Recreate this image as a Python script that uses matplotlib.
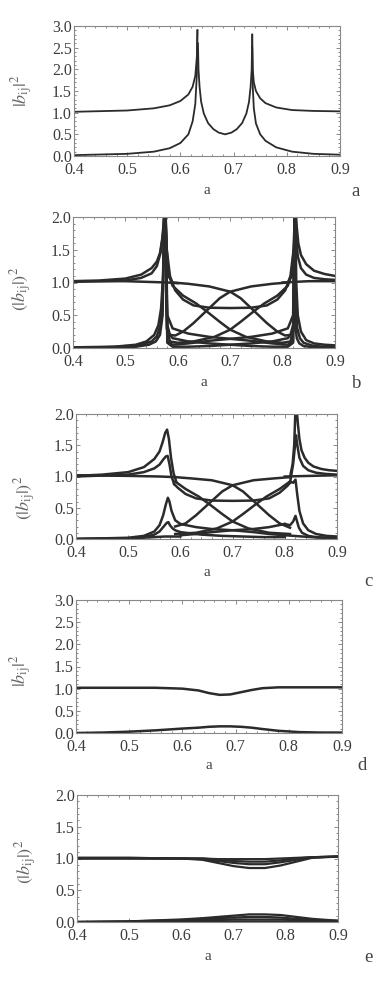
import matplotlib
matplotlib.use('Agg')
import matplotlib.pyplot as plt
from matplotlib.ticker import MultipleLocator, FormatStrFormatter

plt.rcParams['font.family'] = ['Liberation Serif', 'DejaVu Serif']
plt.rcParams['mathtext.fontset'] = 'stix'

# ---- panel a: two branches, resonances near 0.632 and 0.735 ----
a_left_up_x = [0.40, 0.50, 0.55, 0.58, 0.60, 0.615, 0.623, 0.628, 0.631, 0.632]
a_left_up_y = [1.02, 1.05, 1.10, 1.17, 1.27, 1.42, 1.60, 1.85, 2.30, 2.90]
a_left_lo_x = [0.40, 0.50, 0.55, 0.58, 0.60, 0.615, 0.623, 0.628, 0.631, 0.632]
a_left_lo_y = [0.02, 0.05, 0.10, 0.18, 0.30, 0.50, 0.80, 1.20, 1.90, 2.90]
a_mid_x = [0.633, 0.634, 0.636, 0.639, 0.644, 0.652, 0.662, 0.672, 0.684, 0.696,
           0.706, 0.716, 0.724, 0.729, 0.732, 0.734, 0.735]
a_mid_y = [2.60, 2.00, 1.60, 1.25, 0.98, 0.76, 0.62, 0.54, 0.50, 0.54,
           0.62, 0.76, 0.98, 1.25, 1.60, 2.00, 2.80]
a_right_up_x = [0.735, 0.736, 0.738, 0.742, 0.75, 0.76, 0.78, 0.81, 0.85, 0.90]
a_right_up_y = [2.80, 2.00, 1.70, 1.50, 1.33, 1.22, 1.12, 1.06, 1.04, 1.03]
a_right_lo_x = [0.735, 0.736, 0.738, 0.742, 0.75, 0.76, 0.78, 0.81, 0.85, 0.90]
a_right_lo_y = [2.50, 1.60, 1.10, 0.75, 0.50, 0.35, 0.20, 0.10, 0.05, 0.03]

# ---- panel b: many branches, divergent resonances near 0.575 and 0.825 ----
b_l_top1_x = [0.40, 0.45, 0.50, 0.53, 0.55, 0.56, 0.566, 0.570, 0.573, 0.575]
b_l_top1_y = [1.02, 1.03, 1.06, 1.12, 1.22, 1.32, 1.45, 1.65, 1.90, 2.10]
b_l_top2_x = [0.40, 0.50, 0.53, 0.55, 0.56, 0.567, 0.572, 0.575]
b_l_top2_y = [1.01, 1.03, 1.07, 1.14, 1.25, 1.45, 1.75, 2.10]
b_band_l_x = [0.40, 0.50, 0.58, 0.60]
b_band_l_y = [1.02, 1.02, 1.00, 0.99]
b_l_low1_x = [0.40, 0.48, 0.52, 0.54, 0.555, 0.563, 0.568, 0.572, 0.575]
b_l_low1_y = [0.01, 0.02, 0.05, 0.10, 0.20, 0.35, 0.60, 1.10, 2.10]
b_l_low2_x = [0.40, 0.50, 0.53, 0.55, 0.56, 0.567, 0.571, 0.574]
b_l_low2_y = [0.00, 0.02, 0.05, 0.10, 0.18, 0.35, 0.70, 2.10]
b_l_low3_x = [0.40, 0.52, 0.545, 0.558, 0.566, 0.571, 0.574]
b_l_low3_y = [0.00, 0.02, 0.05, 0.10, 0.20, 0.50, 2.10]

b_p1_x = [0.5765, 0.578, 0.582, 0.59, 0.62, 0.66, 0.70, 0.72, 0.745, 0.77, 0.79,
          0.805, 0.815, 0.820, 0.8225, 0.8235]
b_p1_y = [2.10, 1.50, 1.10, 1.00, 0.98, 0.94, 0.86, 0.76, 0.57, 0.38, 0.25,
          0.19, 0.20, 0.35, 0.90, 2.10]
b_p1m_x = [0.5765, 0.5775, 0.58, 0.585, 0.595, 0.61, 0.63, 0.655, 0.68, 0.70,
           0.74, 0.78, 0.81, 0.818, 0.822, 0.8235]
b_p1m_y = [2.10, 0.90, 0.35, 0.20, 0.19, 0.25, 0.38, 0.57, 0.76, 0.86,
           0.94, 0.98, 1.00, 1.10, 1.50, 2.10]
b_p2_x = [0.5765, 0.578, 0.582, 0.59, 0.61, 0.635, 0.655, 0.68, 0.70, 0.73, 0.77,
          0.80, 0.815, 0.821, 0.8235]
b_p2_y = [2.10, 1.60, 1.15, 0.95, 0.80, 0.68, 0.56, 0.40, 0.28, 0.17, 0.10,
          0.08, 0.10, 0.30, 2.10]
b_p2m_x = [0.5765, 0.579, 0.585, 0.60, 0.63, 0.67, 0.70, 0.72, 0.745, 0.765, 0.79,
           0.81, 0.818, 0.822, 0.8235]
b_p2m_y = [2.10, 0.30, 0.10, 0.08, 0.10, 0.17, 0.28, 0.40, 0.56, 0.68, 0.80,
           0.95, 1.15, 1.60, 2.10]
b_p3_x = [0.5765, 0.579, 0.585, 0.595, 0.61, 0.63, 0.66, 0.70, 0.74, 0.77, 0.79,
          0.805, 0.815, 0.821, 0.8235]
b_p3_y = [2.10, 1.50, 1.10, 0.88, 0.74, 0.65, 0.615, 0.61, 0.615, 0.65, 0.74,
          0.88, 1.10, 1.50, 2.10]
b_q1_x = [0.5765, 0.58, 0.59, 0.62, 0.66, 0.70, 0.74, 0.78, 0.81, 0.82, 0.8235]
b_q1_y = [2.10, 0.50, 0.30, 0.22, 0.17, 0.14, 0.11, 0.07, 0.05, 0.10, 2.10]
b_q1m_x = [0.5765, 0.58, 0.59, 0.62, 0.66, 0.70, 0.74, 0.78, 0.81, 0.82, 0.8235]
b_q1m_y = [2.10, 0.10, 0.05, 0.07, 0.11, 0.14, 0.17, 0.22, 0.30, 0.50, 2.10]
b_q2_x = [0.5765, 0.58, 0.59, 0.62, 0.66, 0.70, 0.74, 0.78, 0.81, 0.82, 0.8235]
b_q2_y = [2.10, 0.25, 0.15, 0.10, 0.07, 0.05, 0.03, 0.02, 0.02, 0.08, 2.10]
b_q2m_x = [0.5765, 0.58, 0.59, 0.62, 0.66, 0.70, 0.74, 0.78, 0.81, 0.82, 0.8235]
b_q2m_y = [2.10, 0.08, 0.02, 0.02, 0.03, 0.05, 0.07, 0.10, 0.15, 0.25, 2.10]

b_r_top1_x = [0.825, 0.827, 0.83, 0.835, 0.845, 0.86, 0.88, 0.90]
b_r_top1_y = [2.10, 1.85, 1.60, 1.42, 1.28, 1.18, 1.13, 1.10]
b_r_top2_x = [0.8245, 0.826, 0.829, 0.835, 0.845, 0.86, 0.88, 0.90]
b_r_top2_y = [2.10, 1.70, 1.40, 1.22, 1.12, 1.07, 1.05, 1.04]
b_band_r_x = [0.80, 0.85, 0.90]
b_band_r_y = [1.00, 1.02, 1.02]
b_r_low1_x = [0.8245, 0.826, 0.829, 0.835, 0.845, 0.86, 0.88, 0.90]
b_r_low1_y = [2.10, 1.00, 0.50, 0.25, 0.12, 0.07, 0.05, 0.04]
b_r_low2_x = [0.8245, 0.8255, 0.828, 0.833, 0.84, 0.855, 0.875, 0.90]
b_r_low2_y = [2.10, 0.60, 0.30, 0.15, 0.08, 0.04, 0.02, 0.02]
b_r_low3_x = [0.824, 0.825, 0.827, 0.832, 0.84, 0.86, 0.90]
b_r_low3_y = [2.10, 0.30, 0.15, 0.07, 0.03, 0.01, 0.01]

# ---- panel c: same branches, finite resonance peaks ----
c_l_top1_x = [0.40, 0.45, 0.50, 0.53, 0.55, 0.56, 0.566, 0.571, 0.5745, 0.578, 0.582, 0.587, 0.592]
c_l_top1_y = [1.01, 1.03, 1.07, 1.15, 1.28, 1.40, 1.55, 1.70, 1.75, 1.60, 1.30, 1.05, 0.92]
c_l_top2_x = [0.40, 0.50, 0.53, 0.55, 0.56, 0.567, 0.572, 0.5755, 0.579, 0.583, 0.588]
c_l_top2_y = [1.00, 1.03, 1.07, 1.13, 1.19, 1.27, 1.32, 1.33, 1.20, 1.00, 0.88]
c_band_l_x = [0.40, 0.50, 0.56, 0.59]
c_band_l_y = [1.02, 1.01, 1.00, 0.99]
c_l_low1_x = [0.40, 0.50, 0.53, 0.55, 0.56, 0.567, 0.572, 0.576, 0.579, 0.583, 0.59, 0.60]
c_l_low1_y = [0.00, 0.02, 0.05, 0.12, 0.22, 0.38, 0.55, 0.66, 0.60, 0.45, 0.30, 0.24]
c_l_low2_x = [0.40, 0.50, 0.53, 0.55, 0.56, 0.568, 0.574, 0.577, 0.58, 0.585, 0.59, 0.60]
c_l_low2_y = [0.00, 0.01, 0.03, 0.07, 0.12, 0.20, 0.26, 0.27, 0.22, 0.17, 0.14, 0.11]
c_l_low3_x = [0.40, 0.50, 0.55, 0.57, 0.60]
c_l_low3_y = [0.00, 0.01, 0.03, 0.04, 0.04]

c_p1_x = [0.59, 0.62, 0.66, 0.70, 0.72, 0.745, 0.77, 0.79, 0.81]
c_p1_y = [0.99, 0.97, 0.94, 0.86, 0.76, 0.57, 0.38, 0.25, 0.18]
c_p1m_x = [0.59, 0.61, 0.63, 0.655, 0.68, 0.70, 0.74, 0.78, 0.81]
c_p1m_y = [0.20, 0.25, 0.38, 0.57, 0.76, 0.86, 0.94, 0.97, 0.99]
c_p2_x = [0.59, 0.61, 0.635, 0.655, 0.68, 0.70, 0.73, 0.77, 0.81]
c_p2_y = [0.92, 0.80, 0.68, 0.56, 0.40, 0.28, 0.17, 0.10, 0.08]
c_p2m_x = [0.59, 0.63, 0.67, 0.70, 0.72, 0.745, 0.765, 0.79, 0.81]
c_p2m_y = [0.08, 0.10, 0.17, 0.28, 0.40, 0.56, 0.68, 0.80, 0.92]
c_p3_x = [0.588, 0.595, 0.61, 0.63, 0.66, 0.70, 0.74, 0.77, 0.79, 0.805, 0.81]
c_p3_y = [0.88, 0.82, 0.72, 0.65, 0.615, 0.61, 0.615, 0.65, 0.74, 0.85, 0.90]
c_q1_x = [0.60, 0.63, 0.66, 0.70, 0.74, 0.77, 0.80]
c_q1_y = [0.24, 0.19, 0.16, 0.14, 0.11, 0.08, 0.06]
c_q1m_x = [0.60, 0.63, 0.66, 0.70, 0.74, 0.77, 0.80]
c_q1m_y = [0.06, 0.08, 0.11, 0.14, 0.16, 0.19, 0.24]
c_q2_x = [0.60, 0.64, 0.68, 0.72, 0.76, 0.80]
c_q2_y = [0.11, 0.07, 0.05, 0.04, 0.03, 0.03]

c_r_top1_x = [0.81, 0.815, 0.818, 0.8205, 0.8225, 0.825, 0.828, 0.832, 0.838, 0.845, 0.855, 0.87, 0.885, 0.90]
c_r_top1_y = [0.99, 1.20, 1.50, 2.10, 2.10, 1.85, 1.60, 1.42, 1.30, 1.22, 1.16, 1.12, 1.10, 1.09]
c_r_top2_x = [0.81, 0.812, 0.816, 0.819, 0.8215, 0.824, 0.828, 0.835, 0.845, 0.86, 0.88, 0.90]
c_r_top2_y = [0.90, 1.00, 1.20, 1.45, 1.66, 1.50, 1.30, 1.17, 1.10, 1.06, 1.04, 1.03]
c_band_r_x = [0.80, 0.85, 0.90]
c_band_r_y = [1.00, 1.01, 1.02]
c_r_low1_x = [0.81, 0.816, 0.8205, 0.824, 0.828, 0.835, 0.845, 0.86, 0.88, 0.90]
c_r_low1_y = [0.92, 0.90, 0.95, 0.70, 0.45, 0.25, 0.14, 0.08, 0.05, 0.04]
c_r_low2_x = [0.80, 0.81, 0.816, 0.8205, 0.8235, 0.827, 0.833, 0.845, 0.86, 0.88, 0.90]
c_r_low2_y = [0.24, 0.22, 0.28, 0.37, 0.28, 0.18, 0.10, 0.05, 0.03, 0.02, 0.02]
c_r_low3_x = [0.80, 0.85, 0.90]
c_r_low3_y = [0.06, 0.03, 0.01]

# ---- panel d: two smooth branches ----
d_x = [0.40, 0.45, 0.50, 0.55, 0.60, 0.63, 0.65, 0.67, 0.69, 0.71, 0.73, 0.75, 0.78, 0.82, 0.86, 0.90]
d_up_y = [1.02, 1.02, 1.02, 1.02, 1.00, 0.96, 0.90, 0.86, 0.87, 0.92, 0.97, 1.01, 1.03, 1.03, 1.03, 1.03]
d_lo_y = [0.00, 0.01, 0.03, 0.06, 0.10, 0.12, 0.14, 0.15, 0.15, 0.14, 0.12, 0.09, 0.05, 0.02, 0.01, 0.01]

# ---- panel e: bundled smooth branches ----
e_x = [0.40, 0.50, 0.60, 0.64, 0.67, 0.70, 0.73, 0.76, 0.79, 0.82, 0.85, 0.90]
e_up1_y = [1.01, 1.01, 1.00, 0.98, 0.93, 0.88, 0.85, 0.85, 0.89, 0.95, 1.01, 1.03]
e_up2_y = [1.01, 1.01, 1.00, 0.99, 0.96, 0.93, 0.91, 0.91, 0.94, 0.98, 1.02, 1.03]
e_up3_y = [1.00, 1.00, 1.00, 1.00, 0.98, 0.96, 0.95, 0.95, 0.97, 1.00, 1.02, 1.03]
e_up4_y = [1.00, 1.00, 1.00, 1.00, 0.99, 0.99, 0.99, 0.99, 1.00, 1.01, 1.02, 1.03]
e_lo1_y = [0.00, 0.01, 0.04, 0.06, 0.08, 0.10, 0.12, 0.12, 0.11, 0.08, 0.05, 0.02]
e_lo2_y = [0.00, 0.01, 0.03, 0.05, 0.06, 0.07, 0.08, 0.08, 0.07, 0.05, 0.03, 0.02]
e_lo3_y = [0.00, 0.00, 0.02, 0.03, 0.03, 0.04, 0.04, 0.04, 0.04, 0.03, 0.02, 0.01]
e_lo4_y = [0.00, 0.00, 0.01, 0.01, 0.01, 0.01, 0.01, 0.01, 0.01, 0.01, 0.01, 0.01]

LINE = '#2b2b2b'
W, H = 382, 981


def make_axes(fig, left, right, top, bottom, ymax, ylabel, ylab_right, ylab_y, xlab_off,
              letter, letter_xy):
    ax = fig.add_axes([left / W, 1 - bottom / H, (right - left) / W, (bottom - top) / H])
    ax.set_xlim(0.4, 0.9)
    ax.set_ylim(0, ymax)
    ax.xaxis.set_major_locator(MultipleLocator(0.1))
    ax.xaxis.set_minor_locator(MultipleLocator(0.02))
    ax.yaxis.set_major_locator(MultipleLocator(0.5))
    ax.yaxis.set_minor_locator(MultipleLocator(0.1))
    ax.xaxis.set_major_formatter(FormatStrFormatter('%.1f'))
    ax.yaxis.set_major_formatter(FormatStrFormatter('%.1f'))
    ax.tick_params(which='both', direction='in', top=True, right=True,
                   colors='#777777', labelcolor='#3c3c3c', labelsize=11.5, width=0.6)
    ax.tick_params(which='major', length=3)
    ax.tick_params(which='minor', length=1.5)
    ax.tick_params(axis='x', which='major', pad=4.5)
    ax.tick_params(axis='y', which='major', pad=1.5)
    for s in ax.spines.values():
        s.set_color('#888888')
        s.set_linewidth(0.8)
    ax.set_ylabel(ylabel, fontsize=13, color='#666666')
    # ylabel anchor is its right edge (pixel column ylab_right)
    ax.yaxis.set_label_coords(-(left - ylab_right) / (right - left), ylab_y)
    ax.set_xlabel('a', fontsize=11, color='#444444')
    ax.xaxis.set_label_coords(0.5, -xlab_off / (bottom - top))
    fig.text(letter_xy[0] / W, 1 - letter_xy[1] / H, letter, fontsize=13.5,
             color='#444444', ha='center', va='center')
    return ax


fig = plt.figure(figsize=(W / 100, H / 100), dpi=100)

lab1 = r'$|b_{\rm ij}|^2$'
lab2 = r'$(|b_{\rm ij}|)^2$'

ax = make_axes(fig, 74, 340, 26, 156, 3.0, lab1, 35, 0.5, 28, 'a', (356, 191))
for xs, ys in [(a_left_up_x, a_left_up_y), (a_left_lo_x, a_left_lo_y), (a_mid_x, a_mid_y),
               (a_right_up_x, a_right_up_y), (a_right_lo_x, a_right_lo_y)]:
    ax.plot(xs, ys, color=LINE, lw=1.3)

ax = make_axes(fig, 73, 335, 217, 348, 2.0, lab2, 34, 0.45, 28, 'b', (357, 383))
for xs, ys in [(b_l_top1_x, b_l_top1_y), (b_l_top2_x, b_l_top2_y), (b_band_l_x, b_band_l_y),
               (b_l_low1_x, b_l_low1_y), (b_l_low2_x, b_l_low2_y), (b_l_low3_x, b_l_low3_y),
               (b_p1_x, b_p1_y), (b_p1m_x, b_p1m_y), (b_p2_x, b_p2_y), (b_p2m_x, b_p2m_y),
               (b_p3_x, b_p3_y), (b_q1_x, b_q1_y), (b_q1m_x, b_q1m_y), (b_q2_x, b_q2_y),
               (b_q2m_x, b_q2m_y), (b_r_top1_x, b_r_top1_y), (b_r_top2_x, b_r_top2_y),
               (b_band_r_x, b_band_r_y), (b_r_low1_x, b_r_low1_y), (b_r_low2_x, b_r_low2_y),
               (b_r_low3_x, b_r_low3_y)]:
    ax.plot(xs, ys, color=LINE, lw=1.8)

ax = make_axes(fig, 76, 337, 414, 539, 2.0, lab2, 38, 0.33, 27, 'c', (368, 582))
for xs, ys in [(c_l_top1_x, c_l_top1_y), (c_l_top2_x, c_l_top2_y), (c_band_l_x, c_band_l_y),
               (c_l_low1_x, c_l_low1_y), (c_l_low2_x, c_l_low2_y), (c_l_low3_x, c_l_low3_y),
               (c_p1_x, c_p1_y), (c_p1m_x, c_p1m_y), (c_p2_x, c_p2_y), (c_p2m_x, c_p2m_y),
               (c_p3_x, c_p3_y), (c_q1_x, c_q1_y), (c_q1m_x, c_q1m_y), (c_q2_x, c_q2_y),
               (c_r_top1_x, c_r_top1_y), (c_r_top2_x, c_r_top2_y),
               (c_band_r_x, c_band_r_y), (c_r_low1_x, c_r_low1_y), (c_r_low2_x, c_r_low2_y),
               (c_r_low3_x, c_r_low3_y)]:
    ax.plot(xs, ys, color=LINE, lw=1.8)

ax = make_axes(fig, 76, 342, 600, 733, 3.0, lab1, 34, 0.47, 26, 'd', (362, 765))
ax.plot(d_x, d_up_y, color=LINE, lw=1.8)
ax.plot(d_x, d_lo_y, color=LINE, lw=1.8)

ax = make_axes(fig, 77, 338, 795, 922, 2.0, lab2, 39, 0.47, 28, 'e', (368, 958))
for ys in [e_up1_y, e_up2_y, e_up3_y, e_up4_y, e_lo1_y, e_lo2_y, e_lo3_y, e_lo4_y]:
    ax.plot(e_x, ys, color=LINE, lw=1.6)

fig.savefig('out.png', dpi=100)
